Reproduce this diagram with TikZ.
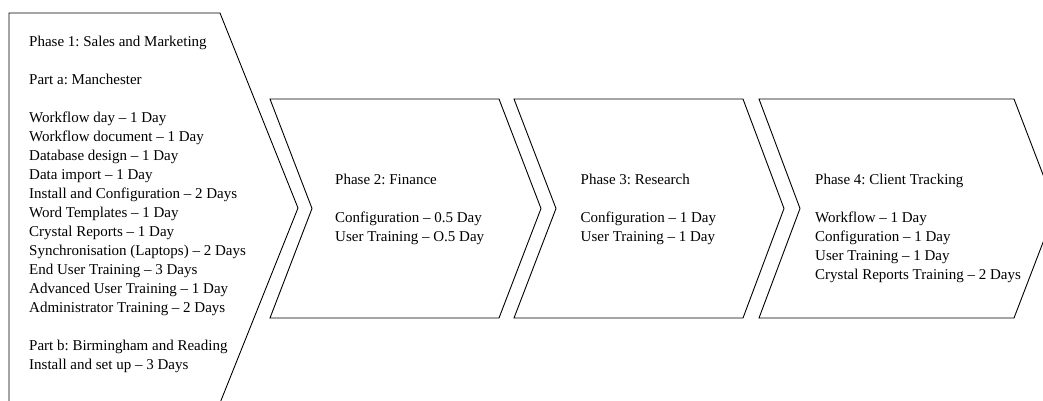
\documentclass[tikz,border=0pt]{standalone}
\usepackage{fontspec}
\setmainfont{Liberation Serif}
\frenchspacing
\begin{document}
\begin{tikzpicture}[x=1pt,y=-1pt,
  chev/.style={draw=black,line width=0.9pt,line join=miter},
  txt/.style={anchor=north west,inner sep=0pt,align=left,font=\fontsize{15}{19}\selectfont}]
\useasboundingbox (0,0) rectangle (1043,400);
\clip (0,0) rectangle (1043,400);
% shapes
\draw[chev] (9,13) -- (220,13) -- (298,208) -- (220,403) -- (9,403) -- cycle;
\draw[chev] (270,99) -- (499,99) -- (541,208.5) -- (499,318) -- (270,318) -- (312,208.5) -- cycle;
\draw[chev] (514,99) -- (743,99) -- (784,208.5) -- (743,318) -- (514,318) -- (556,208.5) -- cycle;
\draw[chev] (759,99) -- (1014,99) -- (1056,208.5) -- (1014,318) -- (759,318) -- (800,208.5) -- cycle;
% texts
\node[txt] (t1) at (29,33.2) {\strut Phase 1: Sales and Marketing\\[19pt]
Part a: Manchester\\[19pt]
Workflow day – 1 Day\\
Workflow document – 1 Day\\
Database design – 1 Day\\
Data import – 1 Day\\
Install and Configuration – 2 Days\\
Word Templates – 1 Day\\
Crystal Reports – 1 Day\\
Synchronisation (Laptops) – 2 Days\\
End User Training – 3 Days\\
Advanced User Training – 1 Day\\
Administrator Training – 2 Days\\[19pt]
Part b: Birmingham and Reading\\
Install and set up – 3 Days};
\node[txt] (t2) at (335,171.2) {\strut Phase 2: Finance\\[19pt]
Configuration – 0.5 Day\\
User Training – O.5 Day};
\node[txt] (t3) at (580.5,171.2) {\strut Phase 3: Research\\[19pt]
Configuration – 1 Day\\
User Training – 1 Day};
\node[txt] (t4) at (815,171.2) {\strut Phase 4: Client Tracking\\[19pt]
Workflow – 1 Day\\
Configuration – 1 Day\\
User Training – 1 Day\\
Crystal Reports Training – 2 Days};
\end{tikzpicture}
\end{document}
